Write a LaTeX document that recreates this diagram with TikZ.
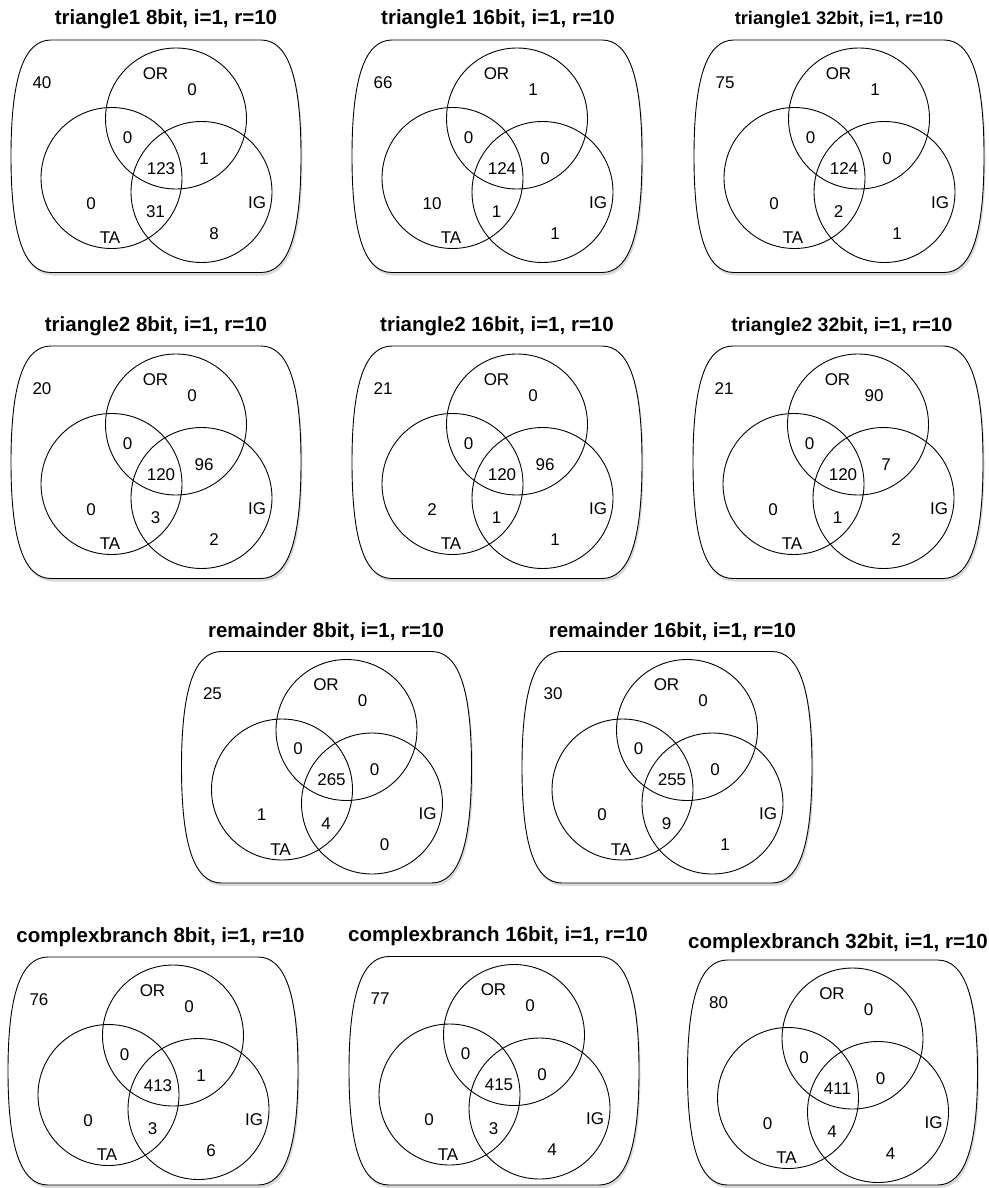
\documentclass[tikz,border=0pt]{standalone}
\usepackage{fontspec}
\setmainfont{Liberation Sans}
\usetikzlibrary{shadows}
\tikzset{
 vbox/.style={draw=black, line width=0.9pt, fill=white,
   drop shadow={shadow xshift=1.5pt, shadow yshift=-3pt, opacity=0.15, fill=black}},
 vcirc/.style={circle, draw=black, line width=0.9pt, minimum size=141pt, inner sep=0pt},
 lab/.style={inner sep=0pt, font=\fontsize{17}{19}\selectfont},
 ttl/.style={inner sep=0pt, anchor=base, font=\fontsize{20.5}{22}\selectfont\bfseries},
}
\newcommand\vennpanel[2]{%
 \pgfmathsetmacro\vB{#2}\pgfmathsetmacro\vBm{#2-40}\pgfmathsetmacro\vM{(#2-78.5)/2}%
 \draw[vbox] (-125,-78.5) -- (85,-78.5) .. controls (113,-78.5) and (125,-38.5) .. (125,\vM)
   .. controls (125,\vBm) and (113,\vB) .. (85,\vB) -- (-125,\vB)
   .. controls (-153,\vB) and (-165,\vBm) .. (-165,\vM)
   .. controls (-165,-38.5) and (-153,-78.5) .. cycle;
 \node[vcirc] (#1-or) at (0,0) {};
 \node[vcirc] (#1-ta) at (-64.5,59.5) {};
 \node[vcirc] (#1-ig) at (25.5,73.5) {};
 \node[lab] (#1-orname) at (-20.5,-45) {OR};
 \node[lab] (#1-taname) at (-66,119.5) {TA};
 \node[lab] (#1-igname) at (81,84) {IG};
}
\newcommand\vennnums[9]{%
 \node[lab] (#1-out) at (-134,-36) {#2};
 \node[lab] (#1-oronly) at (16,-29) {#3};
 \node[lab] (#1-orta) at (-48.5,19) {#4};
 \node[lab] (#1-all) at (-15,50) {#5};
 \node[lab] (#1-orig) at (28,40) {#6};
 \node[lab] (#1-taonly) at (-85,85) {#7};
 \node[lab] (#1-taig) at (-20.5,93.5) {#8};
 \node[lab] (#1-igonly) at (38,115) {#9};
}
\begin{document}
\begin{tikzpicture}[x=1pt, y=-1pt]
\useasboundingbox (0,0) rectangle (988,1188);
% row 1
\begin{scope}[shift={(176,118.5)}]
 \vennpanel{p1}{154}
 \vennnums{p1}{40}{0}{0}{123}{1}{0}{31}{8}
\end{scope}
\node[ttl] (p1-title) at (166,25) {triangle1 8bit, i=1, r=10};
\begin{scope}[shift={(517,118.5)}]
 \vennpanel{p2}{154}
 \vennnums{p2}{66}{1}{0}{124}{0}{10}{1}{1}
\end{scope}
\node[ttl] (p2-title) at (498,25) {triangle1 16bit, i=1, r=10};
\begin{scope}[shift={(859,118.5)}]
 \vennpanel{p3}{154}
 \vennnums{p3}{75}{1}{0}{124}{0}{0}{2}{1}
\end{scope}
\node[ttl, font=\fontsize{18.3}{20}\selectfont\bfseries] (p3-title) at (839,25) {triangle1 32bit, i=1, r=10};
% row 2
\begin{scope}[shift={(176,424.5)}]
 \vennpanel{p4}{154}
 \vennnums{p4}{20}{0}{0}{120}{96}{0}{3}{2}
\end{scope}
\node[ttl] (p4-title) at (156,331) {triangle2 8bit, i=1, r=10};
\begin{scope}[shift={(517,424.5)}]
 \vennpanel{p5}{154}
 \vennnums{p5}{21}{0}{0}{120}{96}{2}{1}{1}
\end{scope}
\node[ttl] (p5-title) at (497,331) {triangle2 16bit, i=1, r=10};
\begin{scope}[shift={(858,424.5)}]
 \vennpanel{p6}{154}
 \vennnums{p6}{21}{90}{0}{120}{7}{0}{1}{2}
\end{scope}
\node[ttl, font=\fontsize{19.4}{21}\selectfont\bfseries] (p6-title) at (842,331) {triangle2 32bit, i=1, r=10};
% row 3
\begin{scope}[shift={(346.5,730)}]
 \vennpanel{p7}{153}
 \vennnums{p7}{25}{0}{0}{265}{0}{1}{4}{0}
\end{scope}
\node[ttl] (p7-title) at (326,637) {remainder 8bit, i=1, r=10};
\begin{scope}[shift={(687,730)}]
 \vennpanel{p8}{153}
 \vennnums{p8}{30}{0}{0}{255}{0}{0}{9}{1}
\end{scope}
\node[ttl] (p8-title) at (672.5,637) {remainder 16bit, i=1, r=10};
% row 4
\begin{scope}[shift={(173,1035.5)}]
 \vennpanel{p9}{149.5}
 \vennnums{p9}{76}{0}{0}{413}{1}{0}{3}{6}
\end{scope}
\node[ttl] (p9-title) at (160.5,942) {complexbranch 8bit, i=1, r=10};
\begin{scope}[shift={(514,1035)}]
 \vennpanel{p10}{150}
 \vennnums{p10}{77}{0}{0}{415}{0}{0}{3}{4}
\end{scope}
\node[ttl] (p10-title) at (498,941.5) {complexbranch 16bit, i=1, r=10};
\begin{scope}[shift={(852.5,1038.5)}]
 \vennpanel{p11}{146.5}
 \vennnums{p11}{80}{0}{0}{411}{0}{0}{4}{4}
\end{scope}
\node[ttl] (p11-title) at (838,948) {complexbranch 32bit, i=1, r=10};
\end{tikzpicture}
\end{document}
